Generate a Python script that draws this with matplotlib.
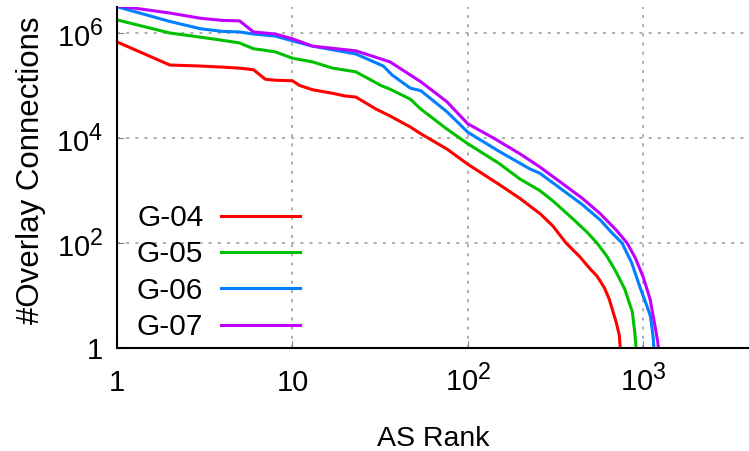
import matplotlib
matplotlib.use("Agg")
import matplotlib.pyplot as plt
import matplotlib._mathtext as _mt
import numpy as np

# ---- data (AS rank, log10 of overlay connections) ----
g04_rank = [1, 2, 3, 4, 5, 6, 7, 8, 10, 11, 13, 17, 20, 23, 30, 36, 47, 54, 76, 100,
            150, 198, 260, 306, 363, 437, 500, 545, 600, 640, 700, 730, 740]
g04_log = [5.83, 5.39, 5.37, 5.35, 5.33, 5.30, 5.12, 5.10, 5.09, 5.00, 4.92, 4.85, 4.80, 4.78,
           4.55, 4.42, 4.21, 4.08, 3.79, 3.50, 3.12, 2.85, 2.55, 2.32, 2.00, 1.73, 1.50, 1.37,
           1.15, 0.93, 0.50, 0.25, 0.0]

g05_rank = [1, 2, 3, 4, 5, 6, 7, 8, 10, 13, 17, 23, 32, 36, 47, 54, 76, 100, 150, 198, 257,
            306, 400, 480, 545, 620, 700, 785, 866, 895, 905, 910]
g05_log = [6.25, 6.00, 5.92, 5.86, 5.81, 5.70, 5.67, 5.64, 5.52, 5.45, 5.33, 5.26, 5.00, 4.93,
           4.74, 4.55, 4.17, 3.89, 3.52, 3.22, 3.00, 2.80, 2.45, 2.20, 2.00, 1.75, 1.45, 1.12,
           0.69, 0.30, 0.10, 0.0]

g06_rank = [1, 2, 3, 4, 5, 6, 8, 10, 13, 23, 33, 37, 47, 54, 76, 100, 150, 226, 257, 350,
            450, 568, 660, 757, 860, 960, 1050, 1100, 1140, 1150]
g06_log = [6.50, 6.22, 6.08, 6.03, 6.02, 5.98, 5.94, 5.85, 5.75, 5.60, 5.37, 5.20, 4.95, 4.90,
           4.50, 4.11, 3.75, 3.41, 3.33, 3.00, 2.73, 2.44, 2.20, 2.00, 1.62, 1.15, 0.80, 0.60,
           0.20, 0.0]

g07_rank = [1, 2, 3, 4, 5, 6, 8, 10, 13, 23, 36, 54, 76, 100, 140, 198, 257, 350, 450, 568,
            700, 809, 900, 1000, 1094, 1170, 1210, 1220]
g07_log = [6.52, 6.38, 6.28, 6.24, 6.23, 6.02, 5.98, 5.89, 5.75, 5.66, 5.45, 5.07, 4.69, 4.27,
           4.00, 3.70, 3.45, 3.12, 2.85, 2.56, 2.25, 2.00, 1.72, 1.35, 0.93, 0.40, 0.12, 0.0]

series_names = ["G-04", "G-05", "G-06", "G-07"]
series_colors = ["#ff0000", "#00c000", "#0080ff", "#c000ff"]

x_ticks = [1, 10, 100, 1000]
x_ticklabels = ["1", "10", r"$\mathregular{10^{2}}$", r"$\mathregular{10^{3}}$"]
y_ticks = [1, 1e2, 1e4, 1e6]
y_ticklabels = ["1", r"$\mathregular{10^{2}}$", r"$\mathregular{10^{4}}$", r"$\mathregular{10^{6}}$"]

# slightly larger superscripts, closer to the reference rendering
try:
    _mt.SHRINK_FACTOR = 0.8
except Exception:
    pass

plt.rcParams["font.family"] = ["Liberation Sans", "DejaVu Sans"]
plt.rcParams["mathtext.fontset"] = "custom"
plt.rcParams["mathtext.rm"] = "Liberation Sans"

W, H = 749, 451
fig = plt.figure(figsize=(W / 100, H / 100), dpi=100)
ax = fig.add_axes([117 / W, 1 - 348 / H, (W - 117) / W, (348 - 7) / H])

data = [(g04_rank, g04_log), (g05_rank, g05_log), (g06_rank, g06_log), (g07_rank, g07_log)]
for (r, lv), name, c in zip(data, series_names, series_colors):
    ax.plot(r, 10 ** np.array(lv), color=c, lw=2.2, label=name)

ax.set_xscale("log")
ax.set_yscale("log")
ax.set_xlim(1, 10 ** 3.603)
ax.set_ylim(1, 10 ** 6.495)
ax.minorticks_off()
ax.set_xticks(x_ticks)
ax.set_xticklabels(x_ticklabels)
ax.set_yticks(y_ticks)
ax.set_yticklabels(y_ticklabels)

ax.spines["top"].set_visible(False)
ax.spines["right"].set_visible(False)
for s in ["left", "bottom"]:
    ax.spines[s].set_linewidth(1.5)
    ax.spines[s].set_color("black")

ax.tick_params(axis="both", direction="in", length=5, width=0.8, color="#888888",
               labelsize=21)
ax.tick_params(axis="x", pad=31)
ax.tick_params(axis="y", pad=10)
for lab in ax.get_xticklabels():
    lab.set_verticalalignment("baseline")

ax.grid(True, which="major", color="#999999", linestyle=(0, (2, 4)), linewidth=1.1)
ax.set_axisbelow(True)

ax.set_xlabel("AS Rank", fontsize=20.5, labelpad=21)
ax.set_ylabel("#Overlay Connections", fontsize=22.5, labelpad=7)
ax.yaxis.label.set_y(0.52)

leg = ax.legend(loc="upper left", bbox_to_anchor=(137 / W, 1 - 204 / H),
                bbox_transform=fig.transFigure, frameon=False, markerfirst=False,
                fontsize=21.5, handlelength=2.64, handletextpad=0.6, labelspacing=0.28,
                borderpad=0, borderaxespad=0)

fig.savefig("out.png", dpi=100)
